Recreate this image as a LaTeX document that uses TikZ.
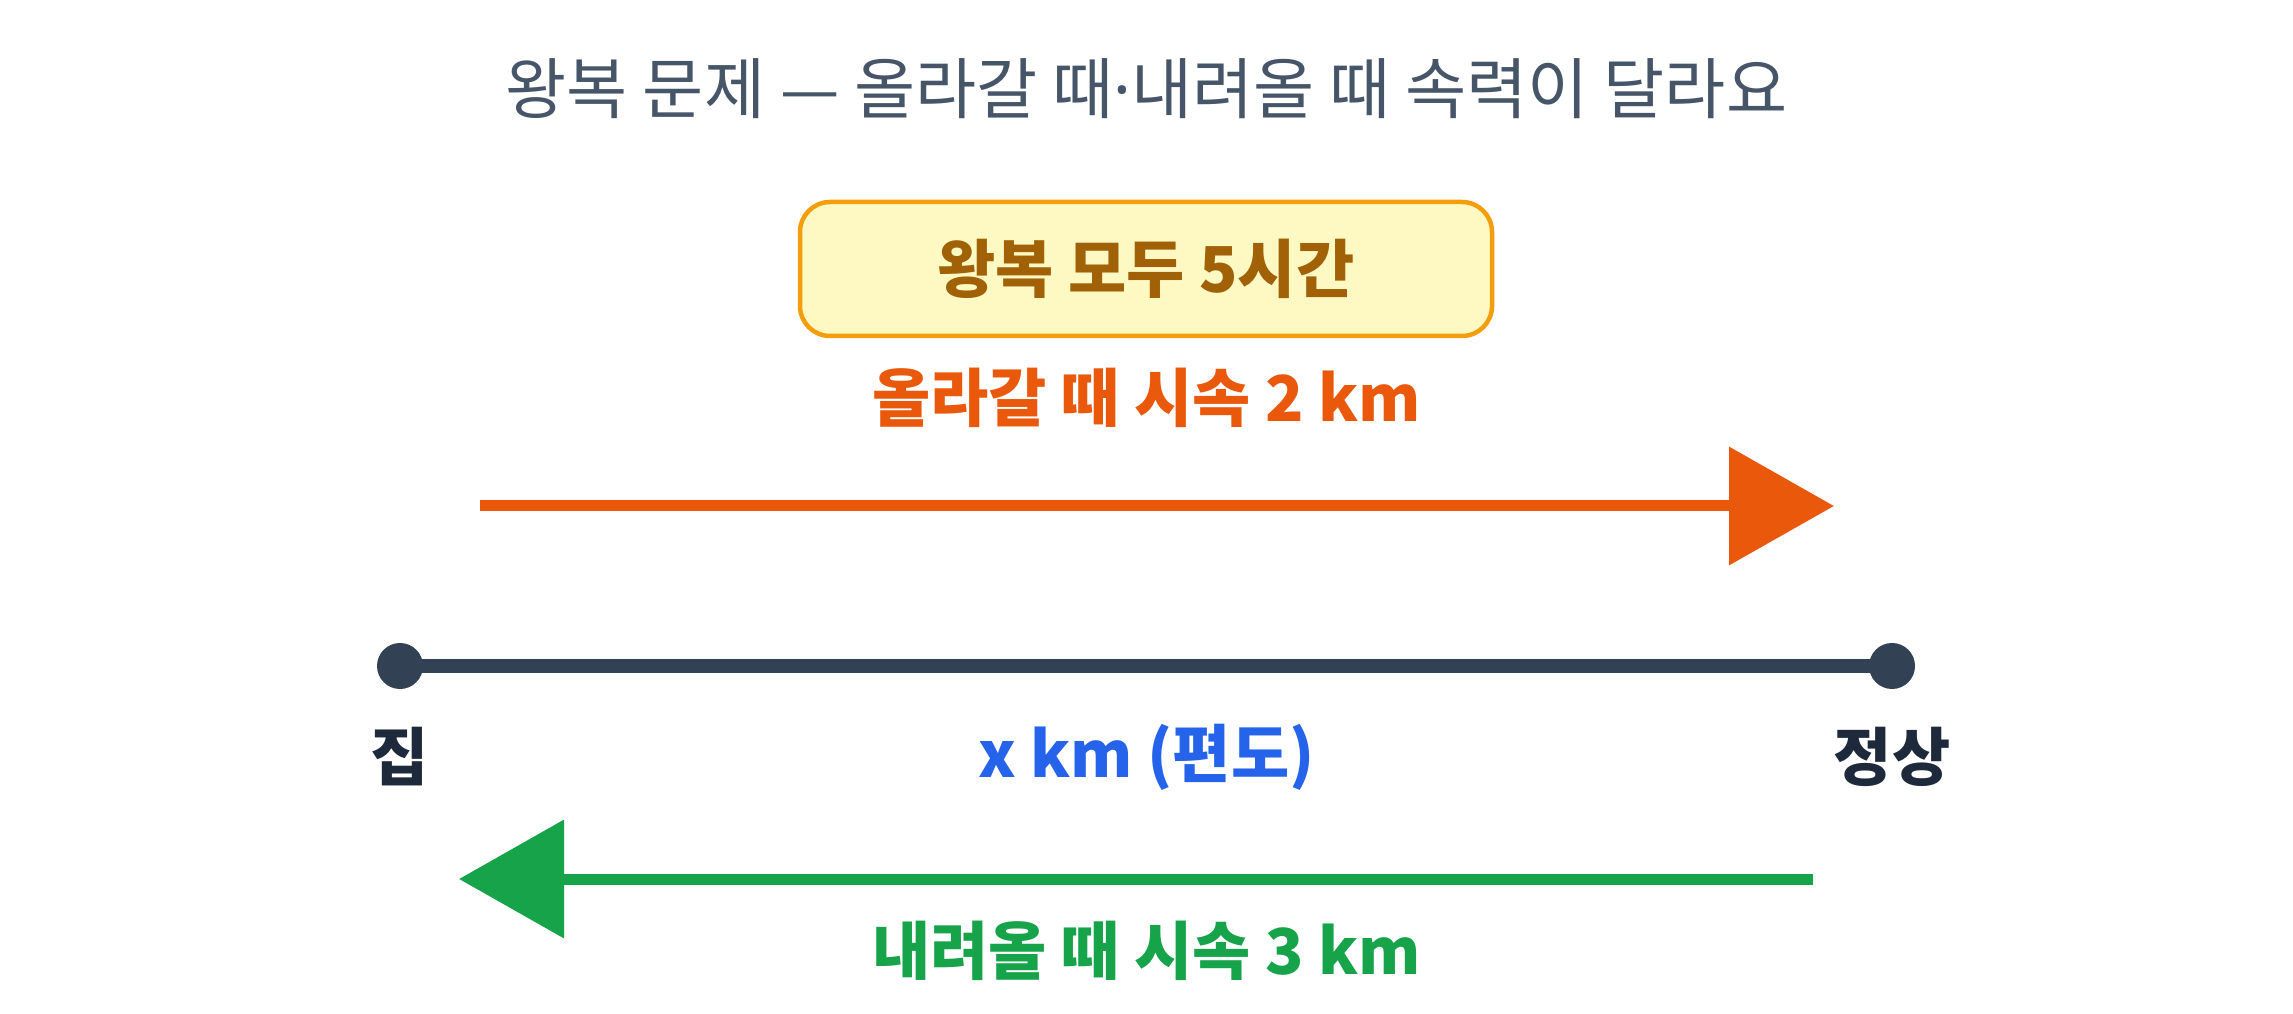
\documentclass[tikz,border=0pt]{standalone}
\usepackage{fontspec}
\setmainfont{Noto Sans CJK KR}
\newfontfamily\dotfont{Noto Sans}
\usetikzlibrary{arrows.meta}
\definecolor{titlegray}{HTML}{475569}
\definecolor{boxfill}{HTML}{FEF9C3}
\definecolor{boxline}{HTML}{F59E0B}
\definecolor{boxtext}{HTML}{A16207}
\definecolor{upcol}{HTML}{EA580C}
\definecolor{downcol}{HTML}{16A34A}
\definecolor{roadcol}{HTML}{334155}
\definecolor{labeldark}{HTML}{1E293B}
\definecolor{distcol}{HTML}{2563EB}
\begin{document}
\begin{tikzpicture}
    [label/.style={font=\fontsize{18}{21}\selectfont\bfseries},
     speed/.style={line width=0.11cm,-{Triangle[length=1.05cm,width=1.16cm]}},
     endpoint/.style={circle,fill=roadcol,inner sep=0pt,minimum size=0.46cm}]
		\useasboundingbox (0,0) rectangle (22.93,10.13);
		\node [text=titlegray,font=\fontsize{18.9}{22}\selectfont] (title) at (11.465, 9.24) {왕복 문제 — 올라갈 때{\dotfont ·}내려올 때 속력이 달라요};
		\node [draw=boxline,line width=0.045cm,fill=boxfill,rounded corners=0.3cm,minimum width=6.92cm,minimum height=1.34cm,text=boxtext,label] (total) at (11.46, 7.44) {왕복 모두 5시간};
		\node [label,text=upcol] (uplabel) at (11.465, 6.15) {올라갈 때 시속 2 km};

		\coordinate (upstart) at (4.80, 5.07);
		\coordinate (upend) at (18.34, 5.07);
		\draw[speed,upcol] (upstart) -- (upend);

		\node [endpoint] (home) at (4.00, 3.47) {};
		\node [endpoint] (peak) at (18.92, 3.47) {};
		\draw[roadcol,line width=0.14cm] (home.center) -- (peak.center);

		\node [label,text=labeldark] (homelabel) at (4.00, 2.56) {집};
		\node [label,text=labeldark] (peaklabel) at (18.92, 2.56) {정상};
		\node [label,text=distcol] (dist) at (11.465, 2.56) {x km (편도)};

		\coordinate (downstart) at (18.13, 1.34);
		\coordinate (downend) at (4.59, 1.34);
		\draw[speed,downcol] (downstart) -- (downend);
		\node [label,text=downcol] (downlabel) at (11.465, 0.62) {내려올 때 시속 3 km};
    \end{tikzpicture}
\end{document}
